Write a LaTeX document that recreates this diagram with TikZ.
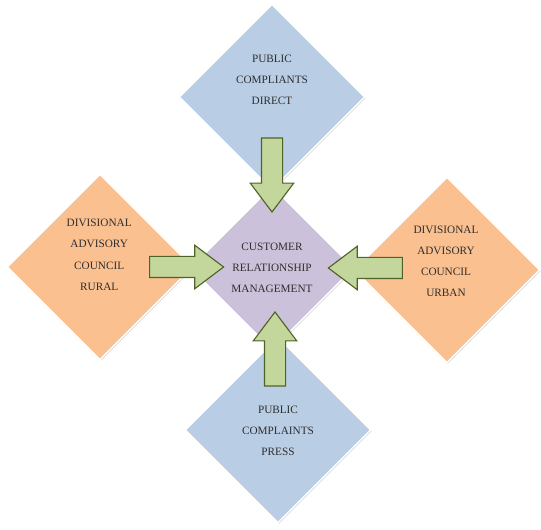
\documentclass[tikz,border=0pt]{standalone}
\usepackage{fontspec}
\setmainfont{Liberation Serif}
\usetikzlibrary{shapes.geometric,shapes.arrows,shadows}

\definecolor{compblue}{HTML}{B9CDE5}
\definecolor{councilorange}{HTML}{FAC090}
\definecolor{crmpurple}{HTML}{CCC1DA}
\definecolor{arrowgreen}{HTML}{C3D69B}
\definecolor{arrowedge}{HTML}{4F6228}
\definecolor{labelgray}{HTML}{2E2E2E}

\tikzset{
  diabox/.style={diamond, aspect=1, minimum size=4.65cm, inner sep=0pt,
    draw=white, line width=1pt,
    drop shadow={shadow xshift=0.7pt, shadow yshift=-0.7pt, opacity=0.35}},
  boxtext/.style={align=center, text=labelgray,
    font=\fontsize{8}{15}\selectfont},
  blockarrow/.style={single arrow, fill=arrowgreen, draw=arrowedge,
    line width=0.8pt, inner sep=0.25cm, minimum height=1.85cm,
    single arrow head extend=0.28cm, single arrow tip angle=74}
}

\begin{document}
\begin{tikzpicture}

  \useasboundingbox (0,0) rectangle (13.525,13.25);

  % Outer boxes
  \node[diabox, fill=compblue]      (direct) at (6.8,10.825)  {};
  \node[diabox, fill=councilorange] (rural)  at (2.5,6.575)   {};
  \node[diabox, fill=councilorange] (urban)  at (11.175,6.5)  {};
  \node[diabox, fill=compblue]      (press)  at (6.95,2.5)    {};

  % Centre box
  \node[diabox, fill=crmpurple, minimum size=4.1cm] (crm) at (6.8,6.55)
    [boxtext] {CUSTOMER\\RELATIONSHIP\\MANAGEMENT};

  % Texts
  \node[boxtext] (directtext) at (6.8,11.25)  {PUBLIC\\COMPLIANTS\\DIRECT};
  \node[boxtext] (ruraltext)  at (2.48,6.88)  {DIVISIONAL\\ADVISORY\\COUNCIL\\RURAL};
  \node[boxtext] (urbantext)  at (11.15,6.72) {DIVISIONAL\\ADVISORY\\COUNCIL\\URBAN};
  \node[boxtext] (presstext)  at (6.95,2.47)  {PUBLIC\\COMPLAINTS\\PRESS};

  % Arrows
  \node[blockarrow, rotate=-90] (fromdirect) at (6.8,9.05)    {};
  \node[blockarrow]             (fromrural)  at (4.49,6.575)  {};
  \node[blockarrow, rotate=180] (fromurban)  at (9.31,6.55)   {};
  \node[blockarrow, rotate=90]  (frompress)  at (6.875,4.35)  {};

\end{tikzpicture}
\end{document}
